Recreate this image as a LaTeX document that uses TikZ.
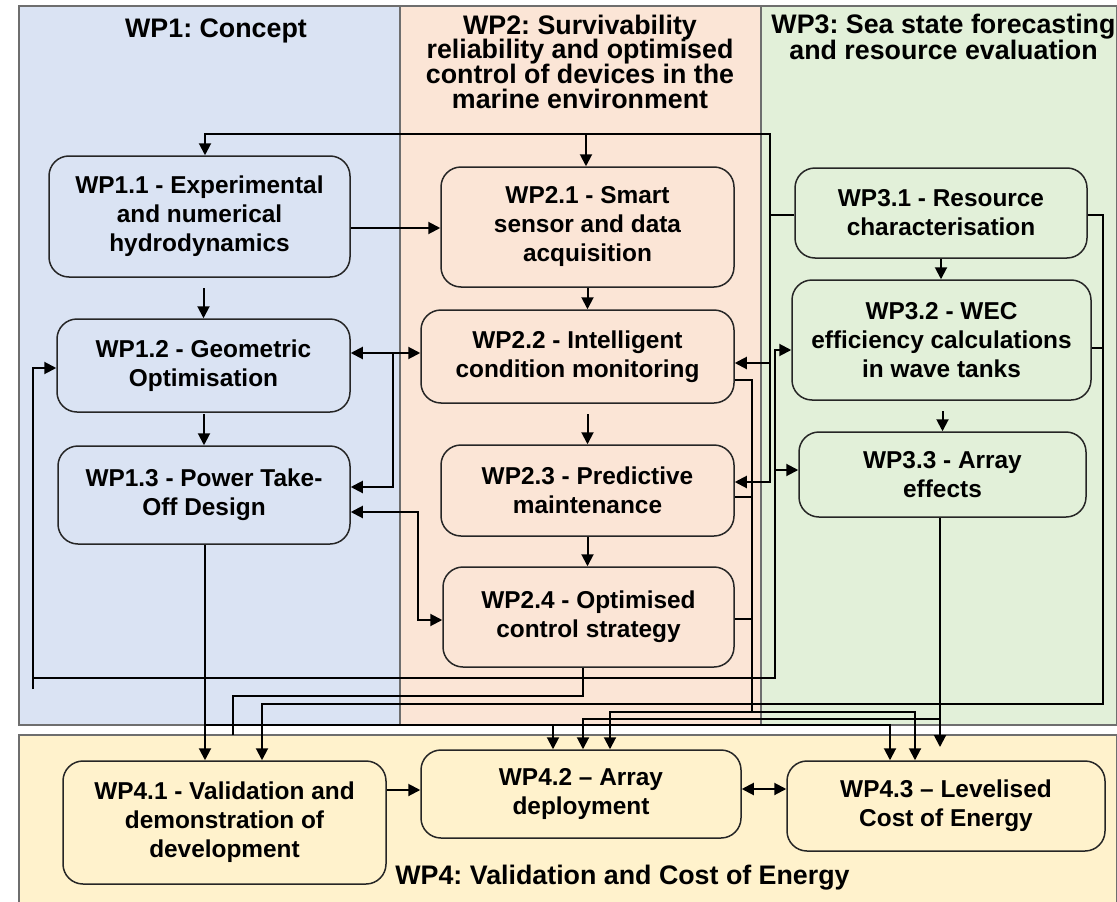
\documentclass[tikz,border=0pt]{standalone}
\usepackage{fontspec}
\setmainfont{Liberation Sans}
\usetikzlibrary{arrows.meta,calc}
\definecolor{bgA}{HTML}{DAE3F3}
\definecolor{bgB}{HTML}{FBE5D6}
\definecolor{bgC}{HTML}{E2F0D9}
\definecolor{bgD}{HTML}{FFF2CC}
\definecolor{boxline}{HTML}{262626}
\definecolor{panelline}{HTML}{6E6E6E}
\frenchspacing
\newcommand\boxfont{\fontsize{24.4}{29}\selectfont\bfseries}
\newcommand\ttlfont{\fontsize{26.8}{24.7}\selectfont\bfseries\lineskiplimit=-100pt}
\newcommand\ttlfontb{\fontsize{26.8}{26}\selectfont\bfseries\lineskiplimit=-100pt}
\begin{document}
\begin{tikzpicture}[x=1pt,y=-1pt,
  panel/.style={draw=panelline,line width=1.2pt},
  box/.style={draw=boxline,line width=1.5pt,rounded corners=20pt,align=center,font=\boxfont,inner sep=0pt},
  ttl/.style={align=center,font=\ttlfont,inner sep=0pt},
  ttlb/.style={align=center,font=\ttlfontb,inner sep=0pt},
  ln/.style={line width=2pt},
  arr/.style={line width=2pt,-{Triangle[length=12pt,width=12pt]}},
  darr/.style={line width=2pt,{Triangle[length=12pt,width=12pt]}-{Triangle[length=12pt,width=12pt]}}]
\useasboundingbox (0,0) rectangle (1117,902);
\fill[white] (0,0) rectangle (1117,902);
% panels
\draw[panel,fill=bgA] (19,6) rectangle (400,725);
\draw[panel,fill=bgB] (400,6) rectangle (761,725);
\draw[panel,fill=bgC] (761,6) rectangle (1117,725);
\draw[panel,fill=bgD] (19,735) rectangle (1117,903);
% titles
\node[ttl,anchor=base] (t1) at (216,37) {WP1: Concept};
\node[ttl,anchor=north] (t2) at (580,14.5) {WP2: Survivability\\reliability and optimised\\control of devices in the\\marine environment};
\node[ttlb,anchor=north] (t3) at (943.5,14) {WP3: Sea state forecasting\\and resource evaluation};
\node[ttl,anchor=base] (t4) at (622.5,884) {WP4: Validation and Cost of Energy};
% boxes
\node[box,fill=bgA,minimum width=301pt,minimum height=121pt] (w11) at (199.5,216.5) {WP1.1 - Experimental\\and numerical\\hydrodynamics};
\node[box,fill=bgA,minimum width=293pt,minimum height=93pt] (w12) at (203.5,365.5) {WP1.2 - Geometric\\Optimisation};
\node[box,fill=bgA,minimum width=292pt,minimum height=98pt] (w13) at (204,495) {WP1.3 - Power Take-\\Off Design};
\node[box,fill=bgB,minimum width=293pt,minimum height=120pt] (w21) at (587.5,227) {WP2.1 - Smart\\sensor and data\\acquisition};
\node[box,fill=bgB,minimum width=313pt,minimum height=93pt] (w22) at (577.5,356.5) {WP2.2 - Intelligent\\condition monitoring};
\node[box,fill=bgB,minimum width=293pt,minimum height=91pt] (w23) at (587.5,490.5) {WP2.3 - Predictive\\maintenance};
\node[box,fill=bgB,minimum width=291pt,minimum height=100pt] (w24) at (588.5,617) {WP2.4 - Optimised\\control strategy};
\node[box,fill=bgC,minimum width=292pt,minimum height=90pt] (w31) at (941,213) {WP3.1 - Resource\\characterisation};
\node[box,fill=bgC,minimum width=299pt,minimum height=120pt] (w32) at (941.5,340) {WP3.2 - WEC\\efficiency calculations\\in wave tanks};
\node[box,fill=bgC,minimum width=287pt,minimum height=85pt] (w33) at (942.5,474.5) {WP3.3 - Array\\effects};
\node[box,fill=bgD,minimum width=323pt,minimum height=123pt] (w41) at (224.5,822.5) {WP4.1 - Validation and\\demonstration of\\development};
\node[box,fill=bgD,minimum width=320pt,minimum height=88pt] (w42) at (581,794) {WP4.2 – Array\\deployment};
\node[box,fill=bgD,minimum width=318pt,minimum height=90pt] (w43) at (946,806) {WP4.3 – Levelised\\Cost of Energy};
% simple vertical links
\draw[arr] (w11.east |- 0,228) -- (w21.west |- 0,228);
\draw[arr] ($(w12.north)+(0,-30)$) -- (w12.north);
\draw[arr] ($(w13.north)+(0,-31)$) -- (w13.north);
\draw[arr] (w21.south) -- (w21.south |- w22.north);
\draw[arr] ($(w23.north)+(0,-30)$) -- (w23.north);
\draw[arr] (w23.south) -- (w23.south |- w24.north);
\draw[arr] (w31.south) -- (w31.south |- w32.north);
\draw[arr] ($(w33.north)+(0,-20)$) -- (w33.north);
% WP1.2 <-> WP2.2, WP1.3
\draw[darr] (w12.east |- 0,353) -- (w22.west |- 0,353);
\draw[arr] (393,353) -- (393,487) -- (w13.east |- 0,487);
% WP1.3 <-> WP2.4
\draw[darr] (w13.east |- 0,512) -- (418,512) -- (418,620) -- (w24.west |- 0,620);
% top loop from WP3.1
\draw[ln] (w31.west |- 0,215) -- (770,215);
\draw[darr] (w23.east |- 0,482) -- (770,482) -- (770,134) -- (205,134) -- (w11.north -| 205,0);
\draw[arr] (586,134) -- (w21.north -| 586,0);
\draw[arr] (770,363) -- (w22.east |- 0,363);
% loop to WP1.2, WP3.2, WP3.3
\draw[arr] (33,689) -- (33,368) -- (w12.west |- 0,368);
\draw[arr] (33,678) -- (775,678) -- (775,350) -- (w32.west |- 0,350);
\draw[arr] (775,470) -- (w33.west |- 0,470);
% WP2.4 bottom
\draw[ln] (w24.south -| 583,0) -- (583,696) -- (233,696) -- (233,735);
% WP2 bus
\draw[ln] (w22.east |- 0,380) -- (752,380) -- (752,712);
\draw[ln] (w23.east |- 0,497) -- (752,497);
\draw[ln] (w24.east |- 0,619) -- (752,619);
\draw[darr] (w42.north -| 610,0) -- (610,712) -- (915,712) -- (w43.north -| 915,0);
% WP3 right bus
\draw[arr] (w31.east |- 0,215) -- (1103,215) -- (1103,704) -- (262,704) -- (w41.north -| 262,0);
\draw[ln] (w32.east |- 0,348) -- (1103,348);
% WP3.3 bottom
\draw[arr] (w33.south -| 940,0) -- (940,747);
\draw[arr] (940,719) -- (583,719) -- (w42.north -| 583,0);
% WP1.3 bottom
\draw[arr] (w13.south -| 205,0) -- (w41.north -| 205,0);
\draw[arr] (205,725) -- (890,725) -- (w43.north -| 890,0);
\draw[arr] (553,725) -- (w42.north -| 553,0);
% WP4 links
\draw[arr] (w41.east |- 0,790) -- (w42.west |- 0,790);
\draw[darr] (w42.east |- 0,789) -- (w43.west |- 0,789);
\end{tikzpicture}
\end{document}
